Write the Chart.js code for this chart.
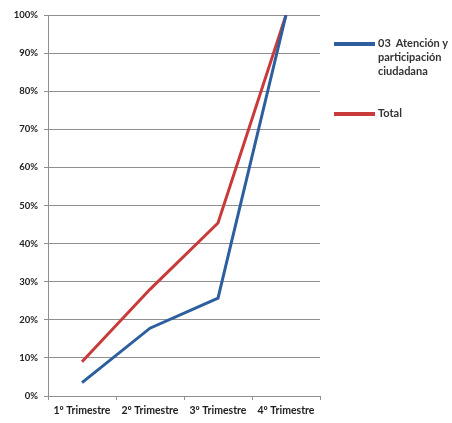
<!DOCTYPE html>
<html>
<head>
<meta charset="utf-8">
<script src="https://cdn.jsdelivr.net/npm/chart.js@4"></script>
<style>
    html, body { margin: 0; padding: 0; background: #fff; }
    #wrap { position: relative; width: 452px; height: 423px; }
    #legend { position: absolute; left: 334px; top: 36px; font-family: Lato, sans-serif; font-weight: bold; font-size: 11px; color: #333; }
    .item { display: flex; align-items: flex-start; margin-bottom: 28px; line-height: 14px; white-space: pre; }
    .swatch { width: 41px; height: 4px; margin-top: 6px; margin-right: 3px; flex: none; }
</style>
</head>
<body>
<div id="wrap">
    <canvas id="lineChart" width="452" height="423"></canvas>
    <div id="legend"></div>
</div>
<script>
const categories = ['1º Trimestre', '2º Trimestre', '3º Trimestre', '4º Trimestre'];
const atencionValues = [3.5, 17.8, 25.7, 100];
const totalValues = [9, 28, 45.4, 100];
const seriesNames = [['03  Atención y', 'participación', 'ciudadana'], ['Total']];
const seriesColors = ['#2D5F9E', '#C93A3A'];

document.addEventListener('DOMContentLoaded', function() {
    initLineChart();
});

function initLineChart() {
    const ctx = document.getElementById('lineChart').getContext('2d');
    const data = {
        labels: categories,
        datasets: [{
            label: seriesNames[0].join(' '),
            data: atencionValues,
            borderColor: seriesColors[0],
            backgroundColor: seriesColors[0],
            borderWidth: 3,
            pointRadius: 0,
            tension: 0
        }, {
            label: seriesNames[1].join(' '),
            data: totalValues,
            borderColor: seriesColors[1],
            backgroundColor: seriesColors[1],
            borderWidth: 3,
            pointRadius: 0,
            tension: 0
        }]
    };

    new Chart(ctx, {
        type: 'line',
        data: data,
        options: {
            responsive: false,
            animation: false,
            layout: { padding: { top: 15, right: 132, left: 0, bottom: 0 } },
            plugins: {
                legend: { display: false },
                tooltip: { enabled: false }
            },
            scales: {
                y: {
                    min: 0,
                    max: 100,
                    afterFit: function(scale) { scale.width = 48; },
                    ticks: {
                        stepSize: 10,
                        color: '#222',
                        font: { family: 'Lato', size: 9.5, weight: 'bold' },
                        padding: 6,
                        callback: v => v + '%'
                    },
                    grid: {
                        color: '#8f8f8f',
                        lineWidth: 1,
                        tickLength: 4
                    },
                    border: { color: '#8f8f8f', width: 1 }
                },
                x: {
                    offset: true,
                    afterFit: function(scale) { scale.height = 27; },
                    ticks: {
                        color: '#222',
                        font: { family: 'Lato', size: 10.5, weight: 'bold' },
                        padding: 4,
                        maxRotation: 0
                    },
                    grid: {
                        offset: true,
                        drawOnChartArea: false,
                        color: '#8f8f8f',
                        tickLength: 4
                    },
                    border: { color: '#8f8f8f', width: 1 }
                }
            }
        }
    });

    const legend = document.getElementById('legend');
    seriesNames.forEach((lines, i) => {
        const item = document.createElement('div');
        item.className = 'item';
        const sw = document.createElement('div');
        sw.className = 'swatch';
        sw.style.background = seriesColors[i];
        const txt = document.createElement('div');
        txt.textContent = lines.join('\n');
        item.appendChild(sw);
        item.appendChild(txt);
        legend.appendChild(item);
    });
}
</script>
</body>
</html>
